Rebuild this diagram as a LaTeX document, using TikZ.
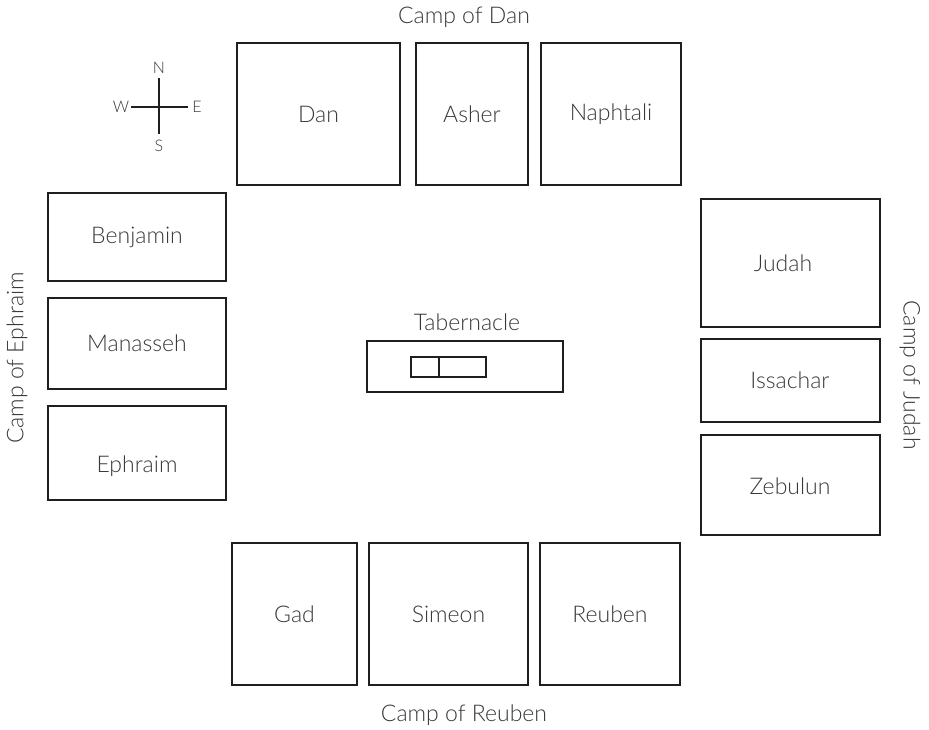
\documentclass[tikz,border=0pt]{standalone}
\usepackage{fontspec}
\setmainfont{Lato}[UprightFont={* Light}]
\begin{document}
\begin{tikzpicture}[x=1pt,y=-1pt,
  tribe/.style={draw=black!88,line width=2pt},
  lbl/.style={text=black!78,font=\fontsize{23}{27}\selectfont},
  small/.style={text=black!78,font=\fontsize{16}{18}\selectfont}]
\useasboundingbox (0,0) rectangle (929,729);
\fill[white] (0,0) rectangle (929,729);
% top
\draw[tribe] (237,43) rectangle (400,185); \node[lbl] (dan) at (318.5,114) {Dan};
\draw[tribe] (416,43) rectangle (528,185); \node[lbl] (asher) at (472,114) {Asher};
\draw[tribe] (541,43) rectangle (681,185); \node[lbl] (naph) at (611,114) {Naphtali};
% left
\draw[tribe] (48,193) rectangle (226,281); \node[lbl] (benj) at (137,237) {Benjamin};
\draw[tribe] (48,298) rectangle (226,389); \node[lbl] (man) at (137,343.5) {Manasseh};
\draw[tribe] (48,406) rectangle (226,500); \node[lbl] (eph) at (137,466) {Ephraim};
% right
\draw[tribe] (701,199) rectangle (880,327); \node[lbl] (jud) at (783,263) {Judah};
\draw[tribe] (701,339) rectangle (880,422); \node[lbl] (iss) at (790,380.5) {Issachar};
\draw[tribe] (701,435) rectangle (880,535); \node[lbl] (zeb) at (790,486) {Zebulun};
% bottom
\draw[tribe] (232,543) rectangle (357,685); \node[lbl] (gad) at (294.5,614) {Gad};
\draw[tribe] (369,543) rectangle (528,685); \node[lbl] (sim) at (448.5,614) {Simeon};
\draw[tribe] (540,543) rectangle (680,685); \node[lbl] (reu) at (610,614) {Reuben};
% tabernacle
\draw[tribe] (367,341) rectangle (563,392);
\draw[tribe] (411,357) rectangle (486,377);
\draw[tribe] (439,357) -- (439,377);
\node[lbl] (tab) at (467,322) {Tabernacle};
% camp labels
\node[lbl] (cdan) at (464,17) {Camp of Dan};
\node[lbl] (creu) at (464,715) {Camp of Reuben};
\node[lbl,rotate=90] (ceph) at (17,358) {Camp of Ephraim};
\node[lbl,rotate=-90] (cjud) at (910,375) {Camp of Judah};
% compass
\node[small] (n) at (159,68) {N};
\node[small] (s) at (159,146) {S};
\node[small] (w) at (121,107) {W};
\node[small] (e) at (197,107) {E};
\draw[draw=black!88,line width=2pt] (159,78) -- (159,134);
\draw[draw=black!88,line width=2pt] (131,107) -- (188,107);
\end{tikzpicture}
\end{document}
